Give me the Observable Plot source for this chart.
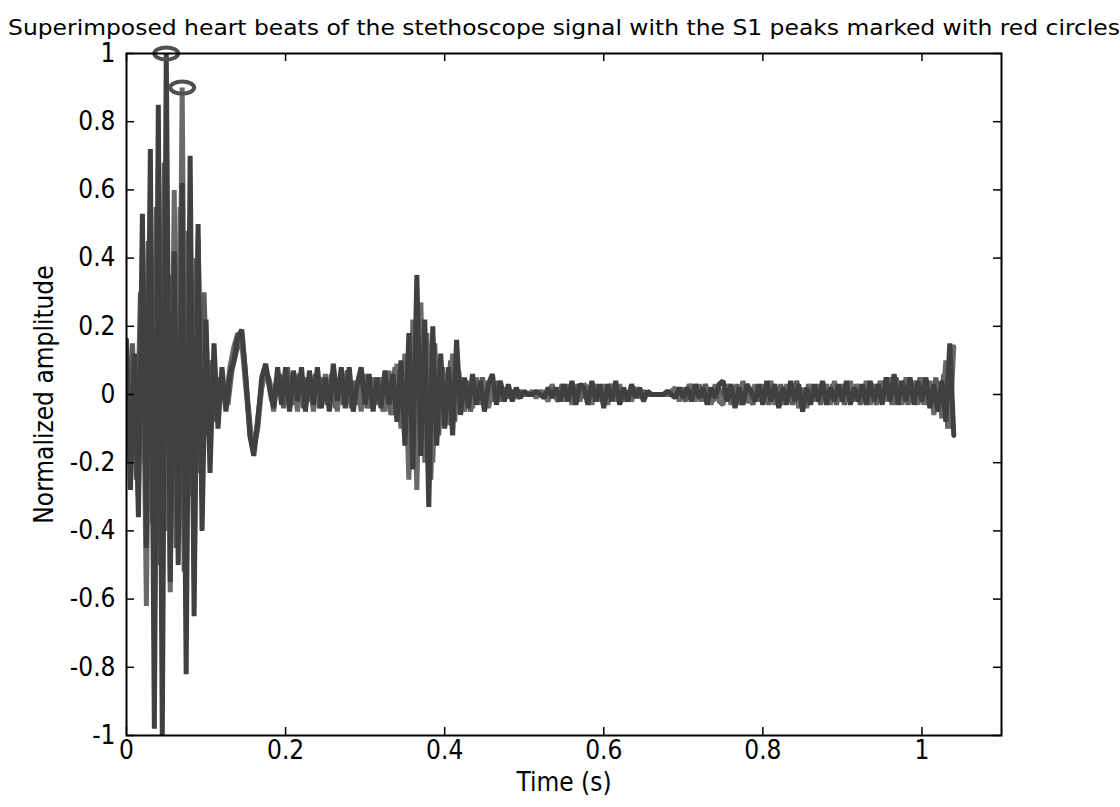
<!DOCTYPE html>
<html>
<head>
<meta charset="utf-8">
<script src="https://cdn.jsdelivr.net/npm/d3@7"></script>
<script src="https://cdn.jsdelivr.net/npm/@observablehq/plot@0.6"></script>
<style>
  html, body { margin: 0; padding: 0; background: #ffffff; }
  #chart { width: 1120px; height: 807px; }
</style>
</head>
<body>
<div id="chart"></div>
<script>
// ---- data ----
const titleText = "Superimposed heart beats of the stethoscope signal with the S1 peaks marked with red circles";
const xLabelText = "Time (s)";
const yLabelText = "Normalized amplitude";
const sampleInterval = 0.005; // s between samples
const beatStart = [0, 0, 0.0025]; // start time of each superimposed beat

const beatA = [
  0.16, -0.28, 0.12, -0.36, 0.53, -0.45, 0.72, -0.98, 0.85, -1.0,
  1.0, -0.55, 0.42, -0.50, 0.62, -0.82, 0.70, -0.65, 0.50, -0.40,
  0.22, -0.23, 0.15, -0.10, 0.08, -0.05, 0.06, 0.10, 0.17, 0.19,
  0.05, -0.12, -0.18, -0.08, 0.05, 0.09, 0.02, -0.04, 0.08, -0.03,
  0.08, -0.05, 0.07, -0.02, 0.08, -0.05, 0.07, -0.03, 0.08, -0.04,
  0.05, -0.05, 0.09, -0.02, 0.08, -0.04, 0.08, -0.05, 0.03, 0.08,
  -0.03, 0.06, -0.05, 0.05, -0.04, 0.07, -0.03, 0.06, -0.08, 0.10,
  -0.15, 0.18, -0.22, 0.35, -0.18, 0.22, -0.33, 0.20, -0.15, 0.12,
  -0.10, 0.08, -0.12, 0.16, -0.06, 0.05, -0.04, 0.06, -0.03, 0.04,
  -0.05, 0.03, 0.06, -0.03, 0.04, -0.02, 0.03, -0.02, 0.02, -0.01,
  0.01, 0.0, 0.0, 0.01, 0.0, -0.01, 0.02, -0.01, 0.02, -0.02,
  0.03, -0.02, 0.04, -0.03, 0.03, 0.02, -0.03, 0.04, -0.02, 0.03,
  -0.04, 0.03, -0.02, 0.04, -0.03, 0.02, -0.02, 0.03, -0.01, 0.02,
  -0.02, 0.01, 0.0, 0.0, 0.0, 0.0, 0.01, 0.0, -0.01, 0.02,
  -0.01, 0.02, -0.02, 0.03, -0.01, 0.02, -0.03, 0.02, -0.01, 0.03,
  0.04, -0.02, 0.03, -0.04, 0.02, -0.03, 0.03, 0.01, -0.02, 0.03,
  -0.03, 0.04, -0.02, 0.03, -0.04, 0.02, -0.03, 0.04, -0.02, 0.03,
  -0.05, 0.02, -0.03, 0.03, -0.02, 0.04, -0.03, 0.02, -0.02, 0.03,
  -0.02, 0.04, -0.03, 0.02, -0.02, 0.03, -0.03, 0.04, -0.02, 0.03,
  -0.03, 0.05, -0.02, 0.06, -0.03, 0.04, -0.02, 0.05, -0.03, 0.04,
  -0.02, 0.05, -0.04, 0.03, -0.05, 0.04, -0.08, 0.15, -0.12
];

const beatB = [
  0.10, -0.18, 0.06, -0.30, 0.36, -0.62, 0.48, -0.72, 0.66, -0.54,
  0.40, -0.58, 0.60, -0.42, 0.90, -0.60, 0.52, -0.55, 0.46, -0.22,
  0.18, -0.15, 0.10, -0.06, 0.04, -0.02, 0.08, 0.14, 0.18, 0.15,
  0.02, -0.10, -0.16, -0.10, 0.02, 0.07, 0.04, -0.05, 0.05, -0.02,
  0.06, -0.04, 0.04, -0.05, 0.06, -0.02, 0.04, -0.05, 0.05, -0.03,
  0.06, -0.03, 0.04, -0.05, 0.06, -0.03, 0.05, -0.02, 0.04, -0.05,
  0.06, -0.04, 0.05, -0.03, 0.05, -0.05, 0.07, -0.06, 0.09, -0.10,
  0.12, -0.25, 0.22, -0.28, 0.27, -0.20, 0.15, -0.20, 0.10, -0.08,
  0.06, -0.09, 0.12, -0.05, 0.04, -0.05, 0.03, -0.04, 0.05, -0.03,
  0.04, -0.04, 0.02, 0.03, -0.02, 0.02, -0.01, 0.01, 0.0, 0.01,
  0.0, 0.0, 0.01, -0.01, 0.01, 0.0, -0.02, 0.03, -0.01, 0.02,
  -0.02, 0.03, -0.03, 0.02, -0.02, 0.03, 0.02, -0.03, 0.03, -0.02,
  0.03, -0.03, 0.03, -0.02, 0.03, -0.02, 0.01, -0.02, 0.02, -0.01,
  0.01, 0.0, 0.0, 0.0, 0.0, 0.0, 0.0, 0.01, 0.02, -0.02,
  0.02, -0.01, 0.03, -0.02, 0.03, -0.02, 0.02, -0.03, 0.03, -0.02,
  -0.03, 0.03, -0.03, 0.02, -0.02, 0.04, -0.02, -0.02, 0.03, -0.02,
  0.03, -0.02, 0.04, -0.03, 0.02, -0.03, 0.03, -0.02, 0.03, -0.04,
  0.02, -0.04, 0.03, -0.02, 0.03, -0.02, 0.03, -0.03, 0.04, -0.02,
  0.03, -0.02, 0.04, -0.02, 0.03, -0.02, 0.04, -0.03, 0.03, -0.02,
  0.04, -0.02, 0.05, -0.03, 0.04, -0.03, 0.05, -0.02, 0.04, -0.03,
  0.05, -0.03, 0.04, -0.06, 0.03, -0.07, 0.10, -0.10, 0.14
];

const beatC = [
  -0.05, 0.15, -0.25, 0.30, -0.20, 0.45, -0.38, 0.55, -0.50, 0.68,
  -0.40, 0.35, -0.45, 0.55, -0.52, 0.48, -0.30, 0.40, -0.23, 0.30,
  -0.12, 0.10, -0.08, 0.05, 0.02, -0.03, 0.07, 0.12, 0.16, 0.12,
  -0.02, -0.14, -0.12, -0.02, 0.06, 0.05, -0.02, 0.03, 0.06, -0.04,
  0.08, -0.03, 0.03, 0.06, -0.04, 0.05, -0.02, 0.06, -0.04, 0.05,
  -0.03, 0.06, -0.04, 0.03, -0.03, 0.07, -0.04, 0.04, -0.03, 0.05,
  -0.04, 0.03, -0.03, 0.05, -0.05, 0.04, -0.06, 0.08, -0.06, 0.05,
  -0.10, 0.12, -0.15, 0.25, -0.12, 0.18, -0.25, 0.15, -0.12, 0.08,
  -0.06, 0.10, -0.08, 0.07, -0.03, 0.04, -0.05, 0.03, -0.02, 0.05,
  -0.03, 0.02, -0.02, 0.04, -0.02, 0.01, 0.0, 0.01, -0.01, 0.0,
  0.0, 0.0, 0.0, 0.0, 0.01, -0.01, 0.02, 0.0, -0.02, 0.03,
  -0.01, 0.02, -0.02, 0.03, -0.01, 0.02, -0.02, 0.03, -0.02, 0.02,
  -0.02, 0.03, -0.01, 0.02, -0.02, 0.01, -0.01, 0.02, 0.0, 0.01,
  0.0, 0.0, 0.0, 0.0, 0.0, 0.0, 0.0, 0.0, 0.01, 0.01,
  -0.02, 0.03, -0.01, 0.02, -0.02, 0.03, 0.0, -0.02, 0.02, 0.01,
  -0.02, 0.03, -0.02, 0.03, -0.03, 0.02, 0.01, -0.03, 0.02, 0.0,
  0.02, -0.03, 0.03, -0.02, 0.03, -0.02, 0.02, -0.03, 0.04, -0.01,
  -0.03, 0.03, -0.02, 0.02, -0.03, 0.03, -0.02, 0.03, -0.03, 0.02,
  -0.03, 0.03, -0.02, 0.03, -0.03, 0.02, -0.02, 0.03, -0.03, 0.04,
  -0.02, 0.04, -0.03, 0.05, -0.02, 0.04, -0.03, 0.04, -0.02, 0.05,
  -0.03, 0.04, -0.03, 0.05, -0.04, 0.06, -0.10, 0.12
];

const peakTimes = [0.05, 0.07];
const peakValues = [1.0, 0.9];

const xTicks = [0, 0.2, 0.4, 0.6, 0.8, 1];
const xTickLabels = ["0", "0.2", "0.4", "0.6", "0.8", "1"];
const yTicks = [-1, -0.8, -0.6, -0.4, -0.2, 0, 0.2, 0.4, 0.6, 0.8, 1];
const yTickLabels = ["-1", "-0.8", "-0.6", "-0.4", "-0.2", "0", "0.2", "0.4", "0.6", "0.8", "1"];

// ---- build tables ----
const toSeries = (vals, k) => vals.map((v, i) => ({t: beatStart[k] + i * sampleInterval, v}));
const seriesA = toSeries(beatA, 0);
const seriesB = toSeries(beatB, 1);
const seriesC = toSeries(beatC, 2);
const peaks = peakTimes.map((t, i) => ({t, v: peakValues[i]}));

// flattened-ellipse marker (the circles are drawn squashed in the figure)
const ellipseSymbol = {
  draw(ctx) {
    const rx = 12, ry = 6, k = 0.5523;
    ctx.moveTo(rx, 0);
    ctx.bezierCurveTo(rx, ry * k, rx * k, ry, 0, ry);
    ctx.bezierCurveTo(-rx * k, ry, -rx, ry * k, -rx, 0);
    ctx.bezierCurveTo(-rx, -ry * k, -rx * k, -ry, 0, -ry);
    ctx.bezierCurveTo(rx * k, -ry, rx, -ry * k, rx, 0);
    ctx.closePath();
  }
};

const W = 1120, H = 807;
const mL = 126, mR = 119, mT = 53, mB = 72;
const innerW = W - mL - mR, innerH = H - mT - mB;
const tickLen = 8;
const FONT = "'Liberation Sans Narrow', 'Arial Narrow', 'DejaVu Sans Condensed', 'Liberation Sans', Arial, sans-serif";
const FS = 26;
const lineStyle = {x: "t", y: "v", strokeWidth: 5, strokeLinejoin: "bevel", clip: true};

const chart = Plot.plot({
  width: W,
  height: H,
  marginLeft: mL,
  marginRight: mR,
  marginTop: mT,
  marginBottom: mB,
  style: {fontFamily: FONT, background: "#ffffff", color: "#000000"},
  x: {domain: [0, 1.1]},
  y: {domain: [-1, 1]},
  marks: [
    Plot.line(seriesC, {...lineStyle, stroke: "#5c5c5c"}),
    Plot.line(seriesB, {...lineStyle, stroke: "#6a6a6a"}),
    Plot.line(seriesA, {...lineStyle, stroke: "#404040"}),
    Plot.dot(peaks, {x: "t", y: "v", symbol: ellipseSymbol, stroke: "#505050", strokeWidth: 4, fill: "none"}),
    // inward ticks on all four sides
    Plot.tickX(xTicks, {x: d => d, insetTop: innerH - tickLen, stroke: "#000", strokeWidth: 1.5}),
    Plot.tickX(xTicks, {x: d => d, insetBottom: innerH - tickLen, stroke: "#000", strokeWidth: 1.5}),
    Plot.tickY(yTicks, {y: d => d, insetRight: innerW - tickLen, stroke: "#000", strokeWidth: 1.5}),
    Plot.tickY(yTicks, {y: d => d, insetLeft: innerW - tickLen, stroke: "#000", strokeWidth: 1.5}),
    Plot.frame({stroke: "#000", strokeWidth: 2}),
    Plot.axisX(xTicks, {tickSize: 0, tickPadding: 5, fontSize: FS, label: null,
      tickFormat: d => xTickLabels[xTicks.indexOf(d)]}),
    Plot.axisY(yTicks, {tickSize: 0, tickPadding: 11, fontSize: FS, label: null,
      tickFormat: d => yTickLabels[yTicks.indexOf(d)]}),
    Plot.text([xLabelText], {text: d => d, frameAnchor: "bottom", dy: 55, fontSize: FS, fill: "#000"}),
    Plot.text([yLabelText], {text: d => d, frameAnchor: "left", textAnchor: "middle", dx: -82, rotate: -90, fontSize: FS, fill: "#000"}),
    Plot.text([titleText], {text: d => d, frameAnchor: "top", dy: -34, fontSize: 22, fill: "#000"})
  ]
});

document.getElementById("chart").appendChild(chart);

// stretch the title to the width it spans in the figure
d3.select(chart).selectAll("text").each(function() {
  if (this.textContent === titleText) {
    this.setAttribute("textLength", 1112);
    this.setAttribute("lengthAdjust", "spacingAndGlyphs");
  }
});
</script>
</body>
</html>
